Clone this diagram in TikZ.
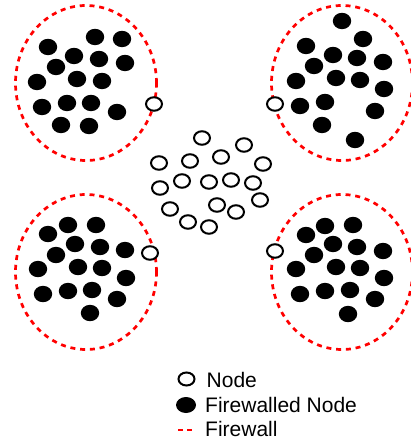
\documentclass[tikz,border=0pt]{standalone}
\usepackage{fontspec}
\setmainfont{Liberation Sans}
\usetikzlibrary{shapes.geometric}
\definecolor{fwred}{RGB}{255,0,0}
\tikzset{
  firewall/.style={ellipse,draw=fwred,line width=2.7pt,dash pattern=on 5pt off 4.8pt,inner sep=0pt,minimum width=141pt,minimum height=155pt},
  plainnode/.style={ellipse,draw=black,fill=white,line width=2pt,inner sep=0pt,minimum width=16pt,minimum height=13.5pt},
  keynode/.style={ellipse,draw=black,fill=white,line width=2pt,inner sep=0pt,minimum width=16pt,minimum height=13pt},
  fwnode/.style={ellipse,fill=black,inner sep=0pt,minimum width=18.4pt,minimum height=16.4pt},
  keyfwnode/.style={ellipse,fill=black,inner sep=0pt,minimum width=20pt,minimum height=16pt},
  legendtext/.style={anchor=base west,inner sep=0pt,font=\fontsize{21}{24}\selectfont,text=black}
}
\begin{document}
\begin{tikzpicture}[x=1pt,y=-1pt]
\useasboundingbox (0,0) rectangle (410,443);
% firewalls
\node[firewall] (fwTL) at (86,83) {};
\node[firewall] (fwTR) at (342,83) {};
\node[firewall] (fwBL) at (86,272) {};
\node[firewall] (fwBR) at (342,272) {};
% firewalled nodes, top left
\foreach \x/\y [count=\i] in {95/37,122/39,48/47,74/56,99/59,125/63,56/67,37/82,77/79,102/81,42/107,67/103,91/103,117/112,61/125,89/126}
  \node[fwnode] (tl\i) at (\x,\y) {};
% top right
\foreach \x/\y [count=\i] in {342/21,363/39,306/46,333/55,357/58,383/62,314/66,296/81,336/78,360/80,384/89,300/106,325/102,375/111,322/125,355/140}
  \node[fwnode] (tr\i) at (\x,\y) {};
% bottom left
\foreach \x/\y [count=\i] in {68/225,96/225,48/234,75/244,100/247,125/250,56/255,38/269,78/267,102/268,126/278,43/294,68/291,92/290,117/299,90/313}
  \node[fwnode] (bl\i) at (\x,\y) {};
% bottom right
\foreach \x/\y [count=\i] in {325/226,353/225,306/235,333/244,357/247,383/251,314/255,296/269,336/267,360/268,384/278,300/294,325/291,350/290,375/299,348/314}
  \node[fwnode] (br\i) at (\x,\y) {};
% gateway nodes
\node[plainnode] (gTL) at (154,104) {};
\node[plainnode] (gTR) at (275,104) {};
\node[plainnode] (gBL) at (150,253) {};
\node[plainnode] (gBR) at (275,251) {};
% open nodes in the centre
\foreach \x/\y [count=\i] in {202/138,244/145,159/163,190/161,221/157,263/164,160/188,182/181,209/182,231/180,253/183,260/200,170/209,217/205,236/212,188/222,209/227}
  \node[plainnode] (c\i) at (\x,\y) {};
% legend
\node[keynode] (keyNode) at (186.5,379) {};
\node[keyfwnode] (keyFw) at (186,405) {};
\coordinate (keyA) at (178,430);
\coordinate (keyB) at (192,430);
\draw[fwred,line width=2pt,dash pattern=on 5pt off 4pt] (keyA) -- (keyB);
\node[legendtext] (txtNode) at (206.5,387) {Node};
\node[legendtext] (txtFwNode) at (205,412) {Firewalled Node};
\node[legendtext] (txtFw) at (205,436) {Firewall};
\end{tikzpicture}
\end{document}
